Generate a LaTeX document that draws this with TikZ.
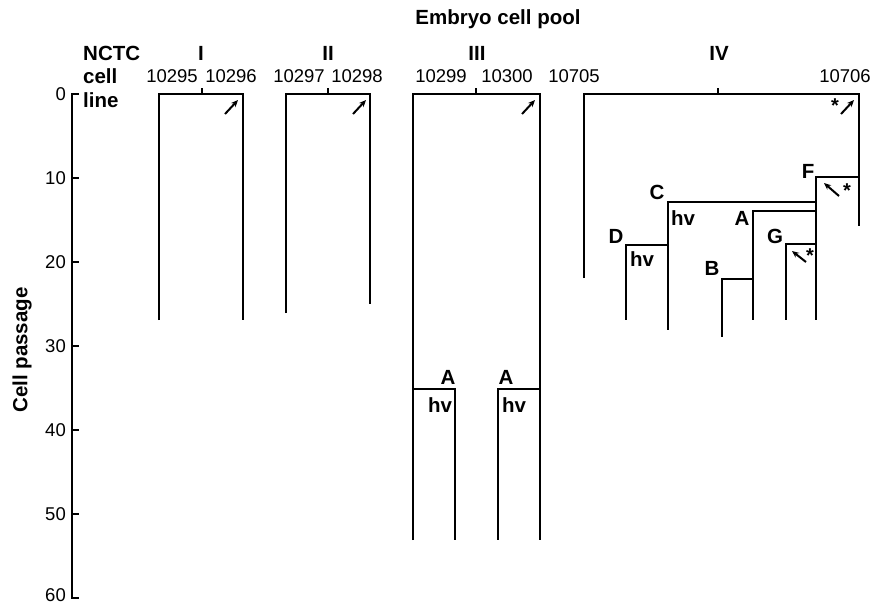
\documentclass[tikz,border=0pt]{standalone}
\usepackage{fontspec}
\setmainfont{Liberation Sans}
\usetikzlibrary{arrows.meta}
\begin{document}
\begin{tikzpicture}[x=1pt,y=-1pt,
  ln/.style={line width=2.2pt, line cap=butt, line join=miter},
  bl/.style={font=\fontsize{20.5}{20.5}\selectfont\bfseries, inner sep=0pt},
  nm/.style={font=\fontsize{18.5}{18.5}\selectfont, inner sep=0pt},
  arr/.style={line width=2pt, -{Stealth[length=7pt,width=6pt]}},
  star/.style={font=\fontsize{20}{20}\selectfont\bfseries, inner sep=0pt},
]
\useasboundingbox (0,0) rectangle (883,606);

% ---------- header ----------
\node[bl, anchor=base] (title) at (498,24) {Embryo cell pool};
\node[bl, anchor=base west] (nctc) at (83,60) {NCTC};
\node[bl, anchor=base west] (cell) at (83,83) {cell};
\node[bl, anchor=base west] (line) at (83,107) {line};
\node[bl, anchor=base] (rI) at (201,60) {I};
\node[bl, anchor=base] (rII) at (328,60) {II};
\node[bl, anchor=base] (rIII) at (477,60) {III};
\node[bl, anchor=base] (rIV) at (719,60) {IV};
\node[nm, anchor=base] (n95) at (172,82) {10295};
\node[nm, anchor=base] (n96) at (231,82) {10296};
\node[nm, anchor=base] (n97) at (299,82) {10297};
\node[nm, anchor=base] (n98) at (357,82) {10298};
\node[nm, anchor=base] (n99) at (441,82) {10299};
\node[nm, anchor=base] (n00) at (507,82) {10300};
\node[nm, anchor=base] (n705) at (574,82) {10705};
\node[nm, anchor=base] (n706) at (845,82) {10706};

% ---------- axis ----------
\draw[ln] (79,94) -- (72,94) -- (72,598) -- (79,598);
\foreach \p in {10,20,30,40,50} {
  \draw[ln] (72,{94+\p*8.4}) -- (79,{94+\p*8.4});
}
\foreach \p in {0,10,20,30,40,50} {
  \node[nm, anchor=east] (t\p) at (66,{94+\p*8.4}) {\p};
}
\node[nm, anchor=east] (t60) at (66,595) {60};
\node[bl, rotate=90] (ylab) at (22,350) {Cell passage};

% ---------- group I ----------
\draw[ln] (159,320) -- (159,94) -- (243,94) -- (243,320);
\draw[ln] (202,88) -- (202,94);
\draw[arr] (225,114) -- (238,100);

% ---------- group II ----------
\draw[ln] (286,313) -- (286,94) -- (370,94) -- (370,304);
\draw[ln] (328,88) -- (328,94);
\draw[arr] (353,114) -- (366,100);

% ---------- group III ----------
\draw[ln] (413,540) -- (413,94) -- (540,94) -- (540,540);
\draw[ln] (476,88) -- (476,94);
\draw[arr] (522,114) -- (535,100);
\draw[ln] (413,389) -- (455,389) -- (455,540);
\draw[ln] (540,389) -- (498,389) -- (498,540);
\node[bl] (a3l) at (448,377) {A};
\node[bl] (h3l) at (440,405) {hv};
\node[bl] (a3r) at (506,377) {A};
\node[bl] (h3r) at (514,405) {hv};

% ---------- group IV ----------
\draw[ln] (584,278) -- (584,94) -- (859,94) -- (859,226);
\draw[ln] (718,88) -- (718,94);
\draw[arr] (841,114) -- (854,100);
\node[star] (s0) at (835,106) {*};
% F
\draw[ln] (859,177) -- (816,177) -- (816,320);
\node[bl] (F) at (808,171) {F};
\draw[arr] (839,196) -- (824,183);
\node[star] (sF) at (847,191) {*};
% C
\draw[ln] (816,202) -- (668,202) -- (668,330);
\node[bl] (C) at (657,192) {C};
\node[bl] (hC) at (683,218) {hv};
% A
\draw[ln] (816,211) -- (753,211) -- (753,320);
\node[bl] (A4) at (742,218) {A};
% D
\draw[ln] (668,245) -- (626,245) -- (626,320);
\node[bl] (D) at (616,236) {D};
\node[bl] (hD) at (642,259) {hv};
% B
\draw[ln] (753,279) -- (722,279) -- (722,337);
\node[bl] (B) at (712,268) {B};
% G
\draw[ln] (816,244) -- (786,244) -- (786,320);
\node[bl] (G) at (775,236) {G};
\draw[arr] (806,262) -- (792,251);
\node[star] (sG) at (810,256) {*};
\end{tikzpicture}
\end{document}
